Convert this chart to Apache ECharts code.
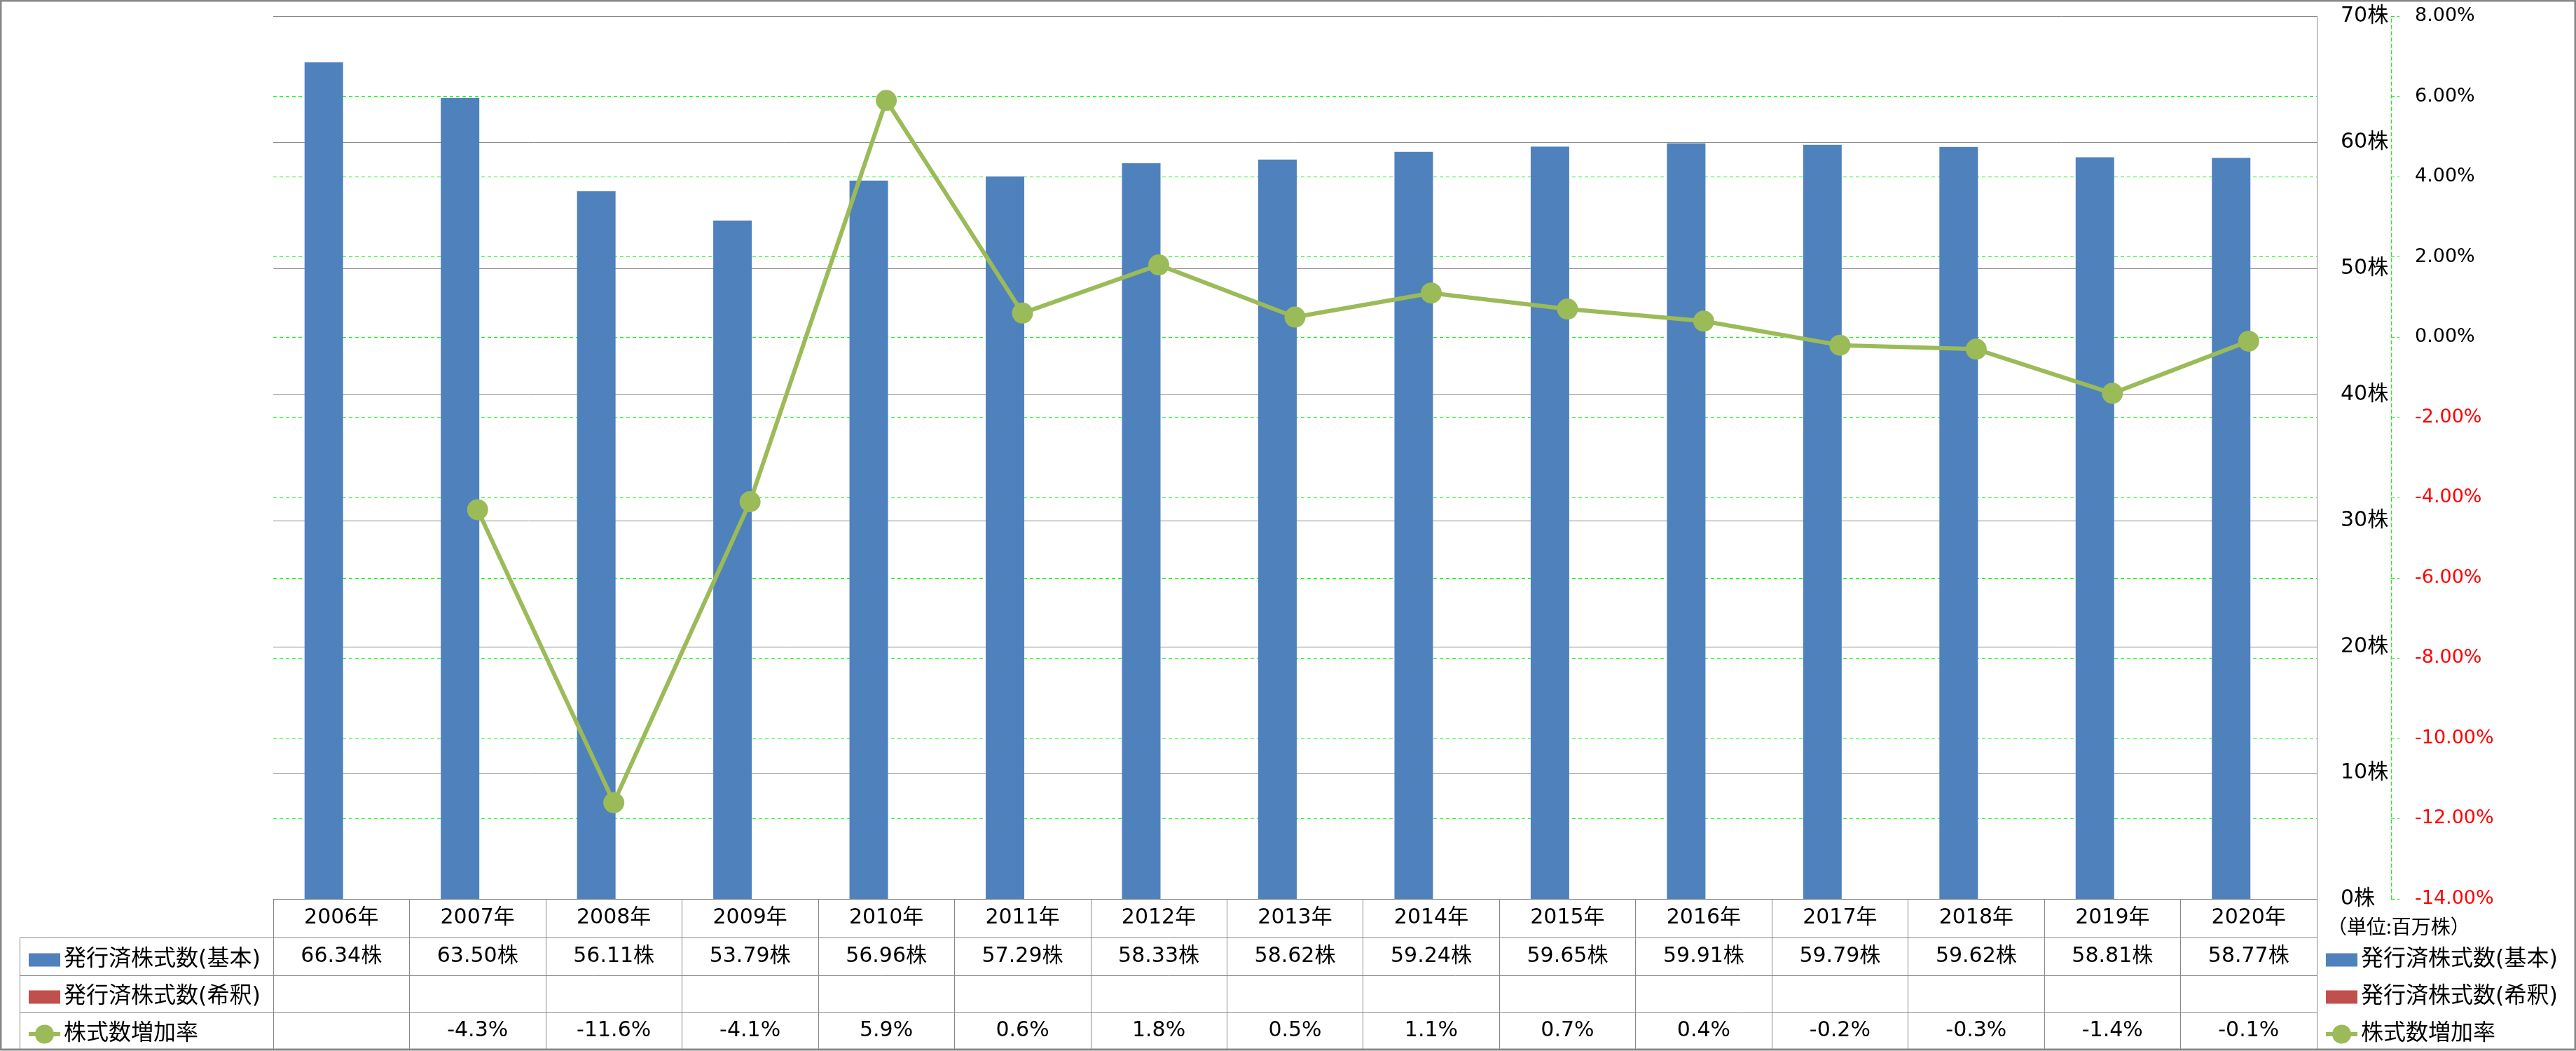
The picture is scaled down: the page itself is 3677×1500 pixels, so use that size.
<!DOCTYPE html>
<html><head><meta charset="utf-8">
<script src="https://cdn.jsdelivr.net/npm/echarts@6/dist/echarts.min.js"></script>
<style>html,body{margin:0;padding:0;background:#fff}#c{width:3677px;height:1500px}</style>
</head><body><div id="c"></div>
<script>
// ---- data ----
const years = ['2006年','2007年','2008年','2009年','2010年','2011年','2012年','2013年','2014年','2015年','2016年','2017年','2018年','2019年','2020年'];
const basicShares = [66.34,63.50,56.11,53.79,56.96,57.29,58.33,58.62,59.24,59.65,59.91,59.79,59.62,58.81,58.77];
const dilutedShares = [null,null,null,null,null,null,null,null,null,null,null,null,null,null,null];
const growthRate = [null,-4.3,-11.6,-4.1,5.9,0.6,1.8,0.5,1.1,0.7,0.4,-0.2,-0.3,-1.4,-0.1];
const shareTicks = [0,10,20,30,40,50,60,70];
const rateTicks = [-14,-12,-10,-8,-6,-4,-2,0,2,4,6,8];
const seriesNames = ['発行済株式数(基本)','発行済株式数(希釈)','株式数増加率'];
const unitText = '（単位:百万株）';

// ---- styles ----
const FONT = '"DejaVu Sans","Noto Sans CJK JP",sans-serif';
const CJK_FONT = '"Noto Sans CJK JP",sans-serif';
const GRAY = '#888888';
const BLUE = '#4F81BD', RED = '#C0504D', GREEN = '#9BBB59', GRID_GREEN = '#00FF00';
const padIcon = 'path://M0,0L45,0M0,7.5L45,7.5L45,26.5L0,26.5ZM0,34L45,34';
const lineIcon = 'path://M0,14L9.34,14A13.5,13.5,0,0,1,35.66,14L45,14L45,20L35.66,20A13.5,13.5,0,0,1,9.34,20L0,20Z';

const chart = echarts.init(document.getElementById('c'));
const plotL = 390, plotR = 3307, plotT = 23, plotB = 1283;
const rowLines = [1338, 1392, 1445];

const legendBase = {
  orient: 'vertical', itemWidth: 45, itemHeight: 34, itemGap: 19,
  textStyle: {fontSize: 32, fontFamily: FONT, color: '#000', lineHeight: 34},
  data: [
    {name: seriesNames[0], icon: padIcon},
    {name: seriesNames[1], icon: padIcon},
    {name: seriesNames[2], icon: lineIcon, itemStyle: {color: GREEN, borderWidth: 0}}
  ]
};

const graphics = [
  {type: 'rect', shape: {x: 1, y: 1, width: 3675, height: 1497}, style: {fill: null, stroke: GRAY, lineWidth: 3}, silent: true, z: 100},
  {type: 'line', shape: {x1: 28.5, y1: rowLines[0], x2: 28.5, y2: 1498}, style: {stroke: GRAY, lineWidth: 1}},
  {type: 'text', x: 3322, y: 1322, style: {text: unitText, font: '28px ' + CJK_FONT, fill: '#000', verticalAlign: 'middle', align: 'left'}}
];
rowLines.forEach(y => graphics.push({type: 'line', shape: {x1: 28, y1: y + 0.5, x2: plotR, y2: y + 0.5}, style: {stroke: GRAY, lineWidth: 1}}));

const tableAxis = (labels, offset) => ({
  type: 'category', data: labels, position: 'bottom', offset: offset,
  axisLine: {show: false}, axisTick: {show: false},
  axisLabel: {interval: 0, margin: 0, verticalAlign: 'middle', fontSize: 30, fontFamily: FONT, color: '#000'}
});

chart.setOption({
  animation: false,
  backgroundColor: '#fff',
  grid: {left: plotL, right: 3677 - plotR, top: plotT, bottom: 1500 - plotB, containLabel: false},
  legend: [
    Object.assign({}, legendBase, {left: 36, top: 1348}),
    Object.assign({}, legendBase, {left: 3315, top: 1348})
  ],
  xAxis: [
    {
      type: 'category', data: years, position: 'bottom', z: 1,
      axisLine: {show: true, lineStyle: {color: GRAY, width: 1}},
      axisTick: {show: true, interval: 0, length: 215, lineStyle: {color: GRAY, width: 1}},
      axisLabel: {interval: 0, margin: 27, verticalAlign: 'middle', fontSize: 30, fontFamily: FONT, color: '#000'}
    },
    tableAxis(basicShares.map(v => v == null ? '' : v.toFixed(2) + '株'), 82),
    tableAxis(growthRate.map(v => v == null ? '' : v.toFixed(1) + '%'), 188)
  ],
  yAxis: [
    {
      type: 'value', position: 'right', z: 1, min: shareTicks[0], max: shareTicks[shareTicks.length - 1],
      interval: shareTicks[1] - shareTicks[0],
      axisLine: {show: true, lineStyle: {color: GRAY, width: 1}},
      axisTick: {show: false},
      axisLabel: {margin: 34, fontSize: 30, fontFamily: FONT, color: '#000', formatter: v => v + '株'},
      splitLine: {show: true, lineStyle: {color: GRAY, width: 1}}
    },
    {
      type: 'value', position: 'right', z: 0, offset: 106, min: rateTicks[0], max: rateTicks[rateTicks.length - 1],
      interval: rateTicks[1] - rateTicks[0],
      axisLine: {show: true, lineStyle: {color: GRID_GREEN, width: 1, type: [5, 4]}},
      axisTick: {show: true, length: 12, lineStyle: {color: GRID_GREEN, width: 1, type: [5, 4]}},
      axisLabel: {margin: 34, fontSize: 27, fontFamily: FONT,
        color: v => Number(v) < 0 ? '#FF0000' : '#000',
        formatter: v => Number(v).toFixed(2) + '%'},
      splitLine: {show: true, lineStyle: {color: GRID_GREEN, width: 1, type: [5, 4]}}
    }
  ],
  series: [
    {name: seriesNames[0], type: 'bar', data: basicShares, xAxisIndex: 0, yAxisIndex: 0,
     barWidth: 55, barGap: '-9%', itemStyle: {color: BLUE}},
    {name: seriesNames[1], type: 'bar', data: dilutedShares, xAxisIndex: 0, yAxisIndex: 0,
     barWidth: 55, barGap: '-9%', itemStyle: {color: RED}},
    {name: seriesNames[2], type: 'line', data: growthRate, xAxisIndex: 0, yAxisIndex: 1,
     symbol: 'circle', symbolSize: 30, connectNulls: false,
     lineStyle: {color: GREEN, width: 6}, itemStyle: {color: GREEN}, z: 5}
  ],
  graphic: graphics
});
</script></body></html>
